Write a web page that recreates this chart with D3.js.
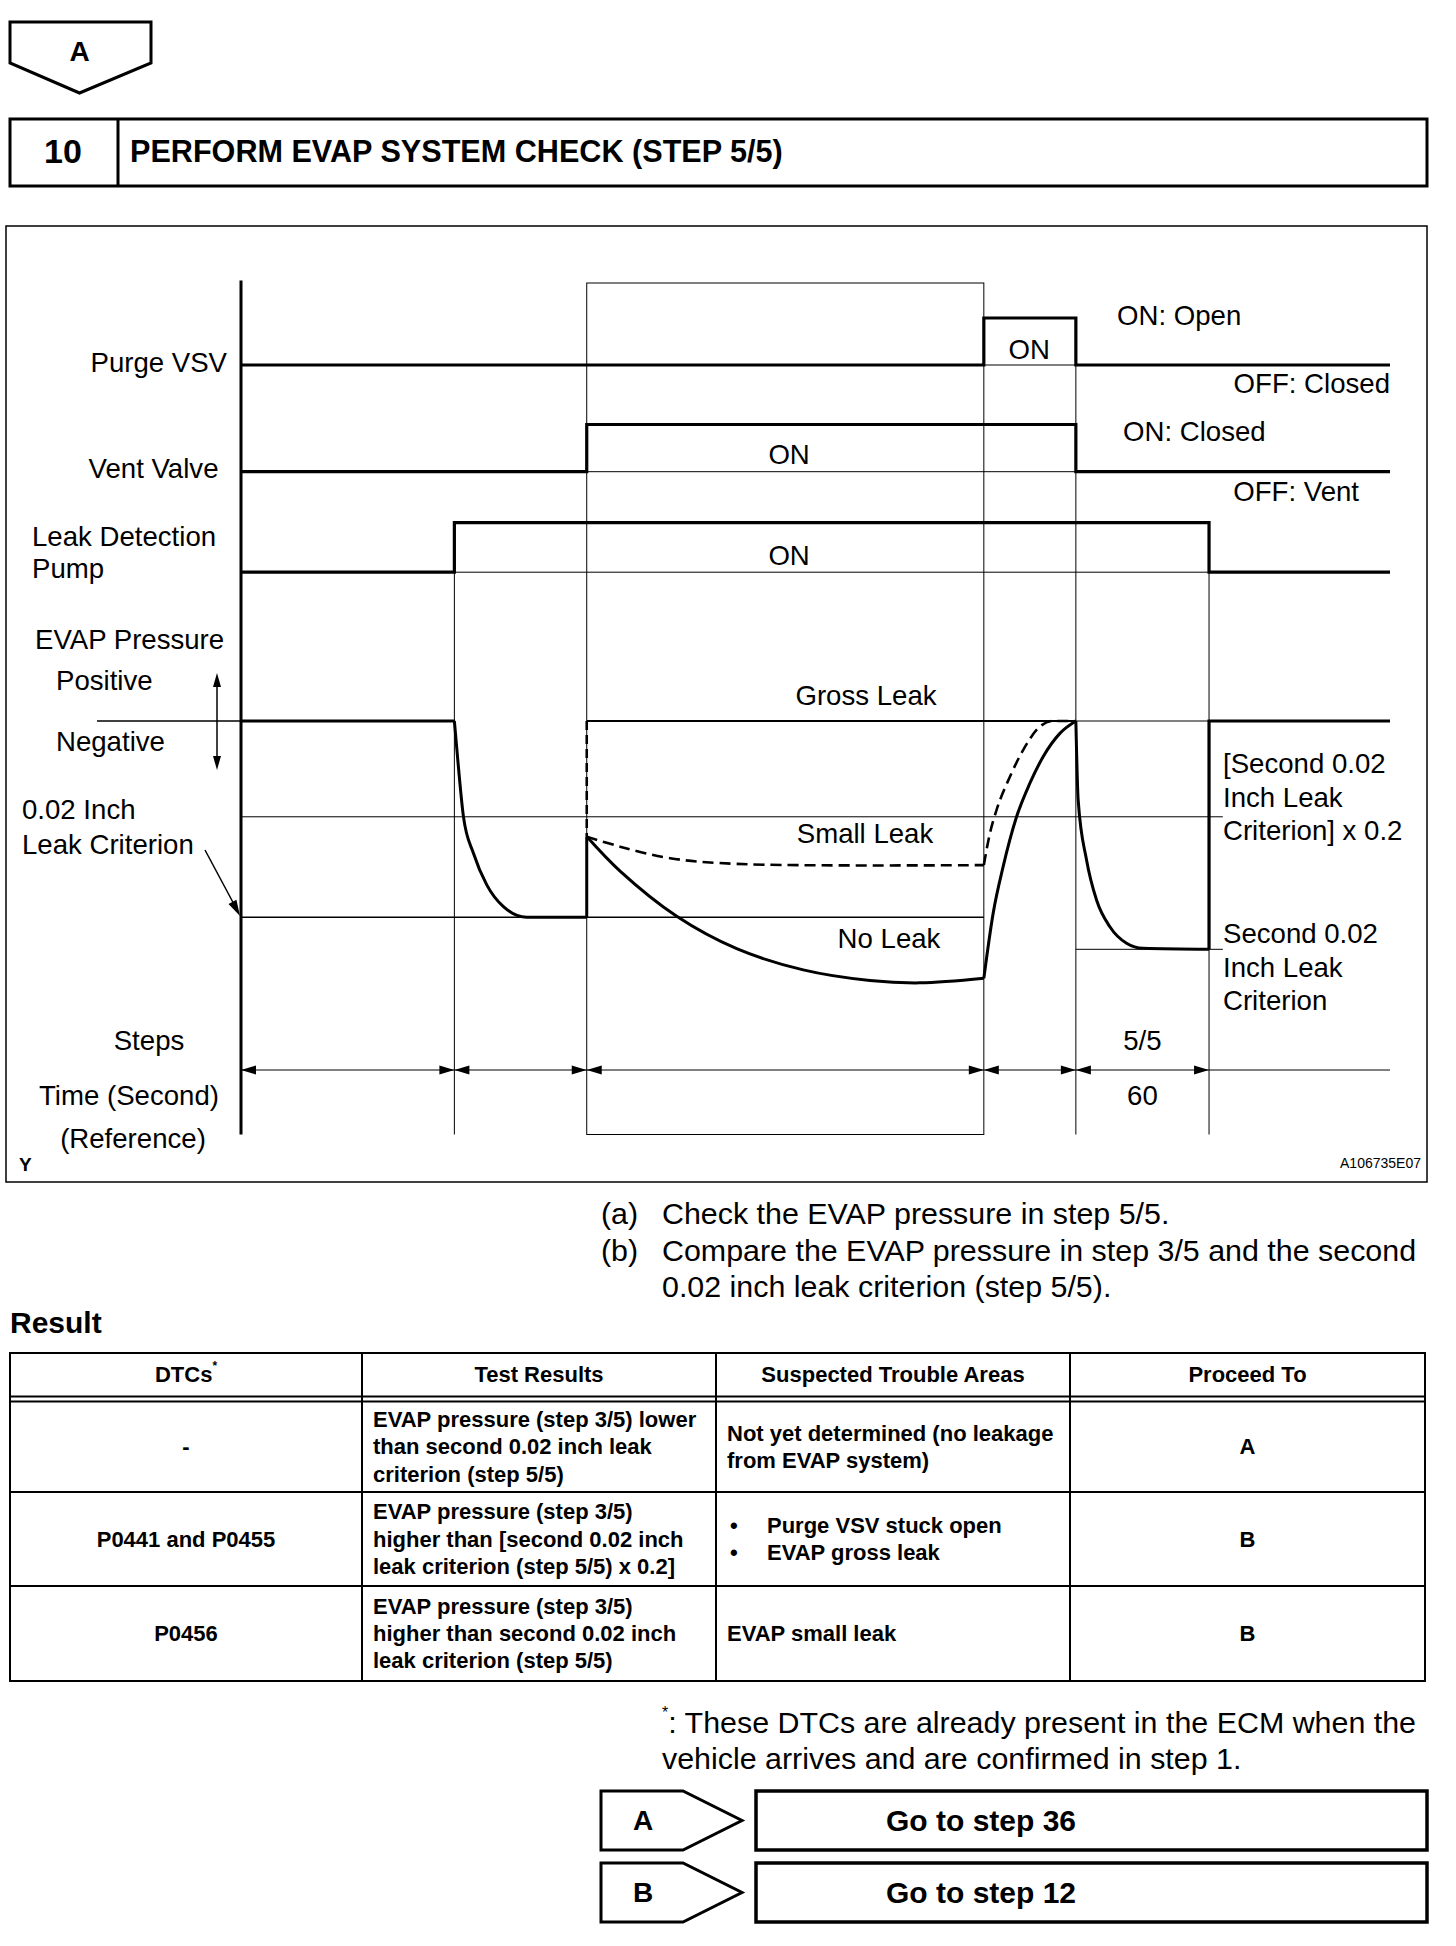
<!DOCTYPE html>
<html>
<head>
<meta charset="utf-8">
<script src="https://cdn.jsdelivr.net/npm/d3@7"></script>
<style>
  body { margin: 0; background: #fff; }
  svg text { font-family: "Liberation Sans", Arial, Helvetica, sans-serif; fill: #000; }
</style>
</head>
<body>
<div id="chart"></div>
<script>
// time axis runs 0..100, boundaries of the test steps
const stepEdges = [0, 18.57, 30.09, 64.65, 72.66, 84.25, 100];
// on/off state in each step
const purgeVSV = [0, 0, 0, 1, 0, 0];
const ventValve = [0, 0, 1, 1, 0, 0];
const leakPump = [0, 1, 1, 1, 1, 0];

// pressure: 0 = atmospheric, -1 = 0.02 inch leak criterion
const criterion = -1;
const secondCriterion = -1.163;
const secondFifth = -0.488;
const pumpDown = [[18.57, 0], [18.92, -0.233], [19.36, -0.487], [20.23, -0.674], [21.39, -0.835], [22.84, -0.946], [24.87, -1], [30.09, -1]];
const noLeakHold = [[30.09, -0.589], [32.99, -0.765], [37.92, -0.995], [43.14, -1.16], [48.93, -1.268], [54.74, -1.322], [59.09, -1.334], [64.65, -1.311]];
const noLeakRise = [[64.65, -1.311], [65.46, -0.98], [66.33, -0.742], [67.5, -0.488], [68.66, -0.317], [69.81, -0.182], [71.27, -0.063], [72.66, 0]];
const smallLeakHold = [[30.09, -0.589], [32.99, -0.64], [37.34, -0.699], [43.14, -0.728], [64.65, -0.734]];
const smallLeakRise = [[64.65, -0.734], [65.18, -0.572], [65.76, -0.453], [66.92, -0.284], [68.07, -0.148], [69.52, -0.029], [70.64, 0], [72.66, 0]];
const grossLeak = [[30.09, 0], [72.66, 0]];
const stepFive = [[72.66, 0], [72.86, -0.402], [73.59, -0.708], [74.46, -0.912], [75.62, -1.048], [77.07, -1.132], [78.51, -1.158], [84.25, -1.163]];
const idleStart = [[0, 0], [18.57, 0]];
const idleEnd = [[84.25, -1.163], [84.25, 0], [100, 0]];

const stepLabel = "5/5";
const stepTime = "60";

// result table
const tableHeaders = ["DTCs", "Test Results", "Suspected Trouble Areas", "Proceed To"];
const dtcs = ["-", "P0441 and P0455", "P0456"];
const testResults = [
  ["EVAP pressure (step 3/5) lower", "than second 0.02 inch leak", "criterion (step 5/5)"],
  ["EVAP pressure (step 3/5)", "higher than [second 0.02 inch", "leak criterion (step 5/5) x 0.2]"],
  ["EVAP pressure (step 3/5)", "higher than second 0.02 inch", "leak criterion (step 5/5)"]
];
const troubleAreas = [
  ["Not yet determined (no leakage", "from EVAP system)"],
  ["Purge VSV stuck open", "EVAP gross leak"],
  ["EVAP small leak"]
];
const proceedTo = ["A", "B", "B"];
const nextSteps = [["A", "Go to step 36"], ["B", "Go to step 12"]];

const W = 1456, H = 1946;
const svg = d3.select("#chart").append("svg")
    .attr("width", W)
    .attr("height", H)
    .style("background", "#fff");

function txt(x, y, s, o) {
    o = o || {};
    return svg.append("text")
        .attr("x", x)
        .attr("y", y)
        .attr("text-anchor", o.anchor || "start")
        .attr("dominant-baseline", "central")
        .style("font-size", (o.size || 27.6) + "px")
        .style("font-weight", o.bold ? "bold" : null)
        .text(s);
}
function hline(x1, x2, y, w) {
    svg.append("line").attr("x1", x1).attr("x2", x2).attr("y1", y).attr("y2", y)
        .attr("stroke", "#000").attr("stroke-width", w);
}
function vline(xx, y1, y2, w) {
    svg.append("line").attr("x1", xx).attr("x2", xx).attr("y1", y1).attr("y2", y2)
        .attr("stroke", "#000").attr("stroke-width", w);
}
function arrowHead(tx, ty, dx, dy, len, half) {
    const bx = tx - dx * len, by = ty - dy * len;
    svg.append("path")
        .attr("d", `M${tx},${ty}L${bx - dy * half},${by + dx * half}L${bx + dy * half},${by - dx * half}Z`)
        .attr("fill", "#000");
}

// ---- top "A" tag and header
svg.append("polygon")
    .attr("points", "10,22 151,22 151,63 79.5,93 10,63")
    .attr("fill", "none").attr("stroke", "#000").attr("stroke-width", 3);
txt(79.5, 51, "A", { anchor: "middle", size: 28, bold: true });

svg.append("rect").attr("x", 10).attr("y", 119).attr("width", 1417).attr("height", 67)
    .attr("fill", "none").attr("stroke", "#000").attr("stroke-width", 3);
vline(118, 119, 186, 3);
txt(63, 151, "10", { anchor: "middle", size: 34, bold: true });
txt(130, 151, "PERFORM EVAP SYSTEM CHECK (STEP 5/5)", { size: 30.6, bold: true });

// ---- timing chart
svg.append("rect").attr("x", 6).attr("y", 226).attr("width", 1421).attr("height", 956)
    .attr("fill", "none").attr("stroke", "#000").attr("stroke-width", 1.5);

const x = d3.scaleLinear().domain([0, 100]).range([241, 1390]);
const yP = d3.scaleLinear().domain([0, -1]).range([721, 917.3]);
const bottom = 1134.5;

const signals = [
    { states: purgeVSV, y: d3.scaleLinear().domain([0, 1]).range([365, 318]) },
    { states: ventValve, y: d3.scaleLinear().domain([0, 1]).range([471.7, 424.5]) },
    { states: leakPump, y: d3.scaleLinear().domain([0, 1]).range([572.2, 522.6]) }
];

// step divider lines and the test window box
vline(x(stepEdges[1]), signals[2].y(0), bottom, 1);
vline(x(stepEdges[4]), signals[0].y(1), bottom, 1);
vline(x(stepEdges[5]), signals[2].y(1), bottom, 1);
svg.append("rect")
    .attr("x", x(stepEdges[2])).attr("y", 283)
    .attr("width", x(stepEdges[3]) - x(stepEdges[2])).attr("height", bottom - 283)
    .attr("fill", "none").attr("stroke", "#000").attr("stroke-width", 1);

// reference levels
signals.forEach(s => hline(x(0), x(100), s.y(0), 1));
hline(97, x(stepEdges[1]), yP(0), 1.3);
hline(x(stepEdges[4]), x(stepEdges[5]), yP(0), 1);
hline(x(0), x(stepEdges[3]), yP(criterion), 1.5);
hline(x(0), x(85.45), yP(secondFifth), 1);
hline(x(stepEdges[4]), x(85.45), yP(secondCriterion), 1);

// signal traces
const stepLine = d3.line().curve(d3.curveStepAfter);
signals.forEach(s => {
    const pts = s.states.map((v, i) => [x(stepEdges[i]), s.y(v)]);
    pts.push([x(100), s.y(s.states[s.states.length - 1])]);
    svg.append("path").attr("d", stepLine(pts))
        .attr("fill", "none").attr("stroke", "#000").attr("stroke-width", 3.2);
});

// pressure traces
const smooth = d3.line().x(d => x(d[0])).y(d => yP(d[1])).curve(d3.curveMonotoneX);
const soft = d3.line().x(d => x(d[0])).y(d => yP(d[1])).curve(d3.curveCatmullRom.alpha(0.5));
const straight = d3.line().x(d => x(d[0])).y(d => yP(d[1]));
function trace(data, gen, w, dash) {
    svg.append("path").attr("d", gen(data))
        .attr("fill", "none").attr("stroke", "#000").attr("stroke-width", w)
        .attr("stroke-dasharray", dash || null);
}
trace(grossLeak, straight, 1.8);
trace(idleStart, straight, 3);
trace(idleEnd, straight, 3.2);
trace(pumpDown, smooth, 3);
trace([[30.09, -1], [30.09, -0.589]], straight, 3);
trace(noLeakHold, soft, 3);
trace(noLeakRise, smooth, 3);
trace([[30.09, 0], [30.09, -0.589]], straight, 2.6, "9,5");
trace(smallLeakHold, soft, 2.6, "11,6");
trace(smallLeakRise, smooth, 2.6, "11,6");
trace(stepFive, smooth, 3);

// axis line
vline(x(0), 280.5, bottom, 3);

// step dimension line
const dimY = 1070;
hline(x(0), x(100), dimY, 1);
for (let i = 0; i < 5; i++) {
    arrowHead(x(stepEdges[i]), dimY, -1, 0, 15, 4.5);
    arrowHead(x(stepEdges[i + 1]), dimY, 1, 0, 15, 4.5);
}

// left labels
txt(227, 362.5, "Purge VSV", { anchor: "end" });
txt(218.5, 468, "Vent Valve", { anchor: "end" });
txt(32, 536, "Leak Detection");
txt(32, 568.5, "Pump");
txt(35, 639, "EVAP Pressure");
txt(56, 680, "Positive");
txt(56, 741, "Negative");
txt(22, 809, "0.02 Inch");
txt(22, 844, "Leak Criterion");
txt(149, 1040, "Steps", { anchor: "middle" });
txt(129, 1095, "Time (Second)", { anchor: "middle" });
txt(133, 1138, "(Reference)", { anchor: "middle" });
txt(19, 1164, "Y", { size: 19, bold: true });
txt(1421, 1163, "A106735E07", { anchor: "end", size: 14 });

// pressure sign arrow and criterion pointer
vline(217, 680, 763, 1.5);
arrowHead(217, 673, 0, -1, 14, 4);
arrowHead(217, 770, 0, 1, 14, 4);
svg.append("line").attr("x1", 205).attr("y1", 850).attr("x2", 236).attr("y2", 908)
    .attr("stroke", "#000").attr("stroke-width", 1.5);
arrowHead(240, 916, 0.471, 0.882, 16, 4.5);

// in-chart labels
txt(x(68.6), 349, "ON", { anchor: "middle" });
txt(x(47.7), 454, "ON", { anchor: "middle" });
txt(x(47.7), 555, "ON", { anchor: "middle" });
txt(1117, 315, "ON: Open");
txt(1390, 383.5, "OFF: Closed", { anchor: "end" });
txt(1123, 431, "ON: Closed");
txt(1359, 491.5, "OFF: Vent", { anchor: "end" });
txt(866, 695, "Gross Leak", { anchor: "middle" });
txt(865, 833, "Small Leak", { anchor: "middle" });
txt(889, 938, "No Leak", { anchor: "middle" });
txt(1223, 763.5, "[Second 0.02");
txt(1223, 797, "Inch Leak");
txt(1223, 830, "Criterion] x 0.2");
txt(1223, 933.5, "Second 0.02");
txt(1223, 967, "Inch Leak");
txt(1223, 1000.5, "Criterion");
txt((x(stepEdges[4]) + x(stepEdges[5])) / 2, 1040, stepLabel, { anchor: "middle" });
txt((x(stepEdges[4]) + x(stepEdges[5])) / 2, 1095, stepTime, { anchor: "middle" });

// ---- instructions
txt(601, 1213, "(a)", { size: 30.4 });
txt(662, 1213, "Check the EVAP pressure in step 5/5.", { size: 30.4 });
txt(601, 1250, "(b)", { size: 30.4 });
txt(662, 1250, "Compare the EVAP pressure in step 3/5 and the second", { size: 30.4 });
txt(662, 1286, "0.02 inch leak criterion (step 5/5).", { size: 30.4 });
txt(10, 1322, "Result", { size: 30, bold: true });

// ---- table
const colX = [10, 362, 716, 1070, 1425];
const rowY = [1353, 1396.5, 1401.5, 1492, 1586, 1681];
const lineGap = 27.3;
rowY.forEach(ry => hline(colX[0], colX[4], ry, 2));
colX.forEach(cx => vline(cx, rowY[0] - 1, rowY[5] + 1, 2));

const headY = 1374;
tableHeaders.forEach((h, i) => {
    const t = txt((colX[i] + colX[i + 1]) / 2, headY, h, { anchor: "middle", size: 22, bold: true });
    if (i === 0) t.append("tspan").attr("dy", -8).style("font-size", "12px").text("*");
});
const rowTop = [rowY[2], rowY[3], rowY[4]];
const rowBot = [rowY[3], rowY[4], rowY[5]];
dtcs.forEach((d, r) => {
    const cy = (rowTop[r] + rowBot[r]) / 2;
    txt((colX[0] + colX[1]) / 2, cy, d, { anchor: "middle", size: 22, bold: true });
    testResults[r].forEach((line, k) => {
        txt(colX[1] + 11, cy + (k - (testResults[r].length - 1) / 2) * lineGap, line, { size: 22, bold: true });
    });
    troubleAreas[r].forEach((line, k) => {
        const ly = cy + (k - (troubleAreas[r].length - 1) / 2) * lineGap;
        if (r === 1) {
            txt(colX[2] + 14, ly, "\u2022", { size: 22, bold: true });
            txt(colX[2] + 51, ly, line, { size: 22, bold: true });
        } else {
            txt(colX[2] + 11, ly, line, { size: 22, bold: true });
        }
    });
    txt((colX[3] + colX[4]) / 2, cy, proceedTo[r], { anchor: "middle", size: 22, bold: true });
});

// ---- footnote
const fn = txt(662, 1722, "", { size: 30.4 });
fn.append("tspan").attr("dy", -10).style("font-size", "16px").text("*");
fn.append("tspan").attr("dy", 10).text(": These DTCs are already present in the ECM when the");
txt(662, 1758, "vehicle arrives and are confirmed in step 1.", { size: 30.4 });

// ---- next step buttons
nextSteps.forEach((s, i) => {
    const top = i === 0 ? 1791 : 1863;
    const h = 59;
    svg.append("polygon")
        .attr("points", `601,${top} 683,${top} 742,${top + h / 2} 683,${top + h} 601,${top + h}`)
        .attr("fill", "none").attr("stroke", "#000").attr("stroke-width", 3);
    svg.append("rect").attr("x", 756).attr("y", top).attr("width", 671).attr("height", h)
        .attr("fill", "none").attr("stroke", "#000").attr("stroke-width", 3.5);
    txt(633, top + h / 2, s[0], { size: 28, bold: true });
    txt(886, top + h / 2, s[1], { size: 30, bold: true });
});
</script>
</body>
</html>
